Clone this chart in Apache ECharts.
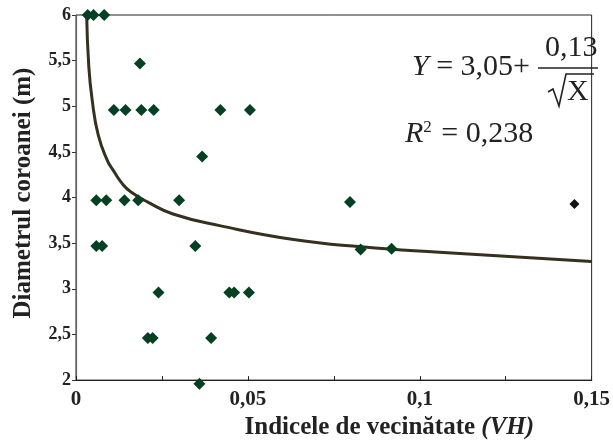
<!DOCTYPE html>
<html>
<head>
<meta charset="utf-8">
<script src="https://cdn.jsdelivr.net/npm/echarts@6/dist/echarts.min.js"></script>
<style>html,body{margin:0;padding:0;background:#fff}#c{width:613px;height:445px}</style>
</head>
<body>
<div id="c"></div>
<script>
// Observed points (Indicele de vecinătate VH, Diametrul coroanei m)
const ptsX = [0.0034, 0.0051, 0.0082, 0.0186, 0.011, 0.0144, 0.019, 0.0226, 0.042, 0.0506, 0.0367,
              0.0059, 0.0088, 0.0141, 0.0181, 0.030, 0.0797, 0.0059, 0.0076, 0.0347, 0.0828, 0.0918,
              0.024, 0.0446, 0.046, 0.0503, 0.0209, 0.0223, 0.0393, 0.0359];
const ptsY = [6, 6, 6, 5.47, 4.96, 4.96, 4.96, 4.96, 4.96, 4.96, 4.45,
              3.97, 3.97, 3.97, 3.97, 3.97, 3.95, 3.47, 3.47, 3.47, 3.43, 3.44,
              2.96, 2.96, 2.96, 2.96, 2.46, 2.46, 2.46, 1.96];
// Separate (black) point
const outX = [0.145];
const outY = [3.93];
// Fitted curve as drawn: Y = 3,05 + 0,13/sqrt(X)
const curveX = [0.0031, 0.0037, 0.0047, 0.0065, 0.0092, 0.0108, 0.0135, 0.016, 0.0209, 0.0282, 0.0421, 0.0633, 0.083, 0.1057, 0.15];
const curveY = [6.0, 5.45, 5.07, 4.68, 4.40, 4.30, 4.15, 4.06, 3.95, 3.82, 3.69, 3.54, 3.46, 3.40, 3.30];
// Tick labels
const xTickLabels = {'0': '0', '0.05': '0,05', '0.1': '0,1', '0.15': '0,15'};
const yTickLabels = ['2', '2,5', '3', '3,5', '4', '4,5', '5', '5,5', '6'];

const serif = '"Liberation Serif", "DejaVu Serif", serif';
const chart = echarts.init(document.getElementById('c'), null, {renderer: 'canvas'});
const zip = (a, b) => a.map((v, i) => [v, b[i]]);

chart.setOption({
  animation: false,
  backgroundColor: '#fff',
  grid: {left: 76, right: 6, top: 15, bottom: 63, show: true, borderColor: '#222', borderWidth: 1},
  xAxis: {
    type: 'value', min: 0, max: 0.15, interval: 0.05,
    axisLine: {show: true, lineStyle: {color: '#222', width: 1.2}},
    axisTick: {show: true, inside: true, length: 4, lineStyle: {color: '#222'}},
    minorTick: {show: true, splitNumber: 2, length: 4, lineStyle: {color: '#222'}},
    splitLine: {show: false},
    axisLabel: {
      color: '#222', fontFamily: serif, fontSize: 21, fontWeight: 'bold', margin: 9,
      formatter: v => xTickLabels[String(+v.toFixed(3))] ?? String(v).replace('.', ',')
    },
    name: 'Indicele de vecinătate {i|(VH)}',
    nameLocation: 'middle', nameGap: 33,
    nameTextStyle: {
      color: '#222', fontFamily: serif, fontSize: 25, fontWeight: 'bold', padding: [0, 0, 0, 111],
      rich: {i: {fontStyle: 'italic', fontWeight: 'bold', fontFamily: serif, fontSize: 25, color: '#222'}}
    }
  },
  yAxis: {
    type: 'value', min: 2, max: 6, interval: 0.5,
    axisLine: {show: true, lineStyle: {color: '#666', width: 1.2}},
    axisTick: {show: true, inside: false, length: 4, lineStyle: {color: '#333'}},
    splitLine: {show: false},
    axisLabel: {
      color: '#222', fontFamily: serif, fontSize: 18, fontWeight: 'bold', margin: 5,
      formatter: v => yTickLabels[Math.round((v - 2) / 0.5)]
    },
    name: 'Diametrul coroanei (m)',
    nameLocation: 'middle', nameGap: 40, nameRotate: 90,
    nameTextStyle: {color: '#222', fontFamily: serif, fontSize: 25, fontWeight: 'bold', padding: [0, 0, 0, 9]}
  },
  series: [
    {
      type: 'line', data: zip(curveX, curveY), smooth: true, showSymbol: false, symbol: 'none',
      lineStyle: {color: '#36301f', width: 3}, z: 2, clip: true
    },
    {
      type: 'scatter', data: zip(ptsX, ptsY), symbol: 'diamond', symbolSize: 12,
      itemStyle: {color: '#064023', opacity: 1}, z: 3, clip: false
    },
    {
      type: 'scatter', data: zip(outX, outY), symbol: 'diamond', symbolSize: 10,
      itemStyle: {color: '#141414', opacity: 1}, z: 3, clip: false
    }
  ],
  graphic: [
    {type: 'text', left: 412, top: 52, style: {text: '{i|Y} = 3,05+', font: '30px ' + serif, fill: '#222',
      rich: {i: {fontStyle: 'italic', fontSize: 30, fontFamily: serif, fill: '#222'}}}},
    {type: 'text', left: 545, top: 33, style: {text: '0,13', font: '30px ' + serif, fill: '#222'}},
    {type: 'line', shape: {x1: 538, y1: 68, x2: 598, y2: 68}, style: {stroke: '#222', lineWidth: 1.5}},
    {type: 'polyline', shape: {points: [[548, 92], [553, 89], [559, 106], [566, 74], [594, 74]]},
      style: {stroke: '#222', lineWidth: 1.6, fill: null}},
    {type: 'text', left: 567, top: 77, style: {text: 'X', font: '30px ' + serif, fill: '#222'}},
    {type: 'text', left: 405, top: 119, style: {text: '{i|R}{s|2} = 0,238', font: '30px ' + serif, fill: '#222',
      rich: {i: {fontStyle: 'italic', fontSize: 30, fontFamily: serif, fill: '#222'},
             s: {fontSize: 17, fontFamily: serif, fill: '#222', verticalAlign: 'top', padding: [0, 2, 12, 0]}}}}
  ]
});
</script>
</body>
</html>
